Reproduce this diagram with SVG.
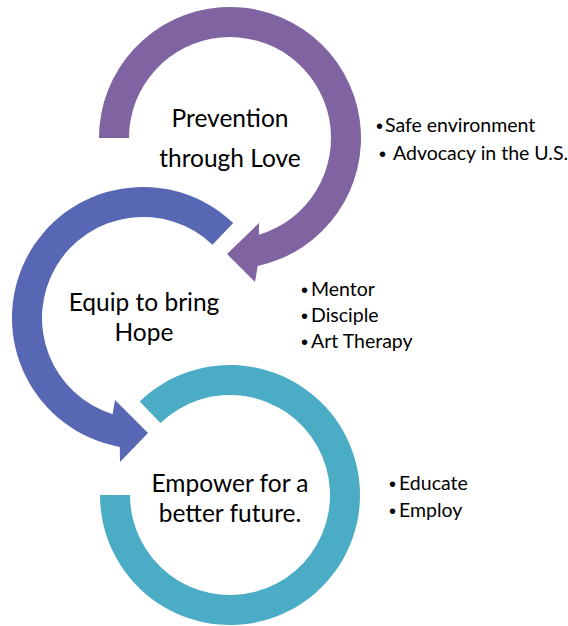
<svg xmlns="http://www.w3.org/2000/svg" width="568" height="626" viewBox="0 0 568 626">
  <style>
    .title { font-family: Lato, "Open Sans", "Liberation Sans", sans-serif; font-size: 24.5px; fill: #000; text-anchor: middle; }
    .item { font-family: Lato, "Open Sans", "Liberation Sans", sans-serif; font-size: 19.5px; fill: #000; }
    .dot { font-family: "Liberation Sans", sans-serif; font-size: 20px; fill: #000; }
    .purple { fill: #8064A2; }
    .blue { fill: #5867B3; }
    .teal { fill: #4BACC6; }
  </style>
  <rect width="568" height="626" fill="#fff"/>

  <!-- Stage 1: curved arrow turning clockwise, head pointing into stage 2 -->
  <g id="node-prevention">
    <path class="purple" d="M 99,138 A 131 131 0 1 1 257.7,266 L 255,282 L 227,254 L 259,223 L 258.9,234.8 A 101 101 0 1 0 129,138 Z"/>
    <text class="title" x="230" y="127">Prevention</text>
    <text class="title" x="230" y="167">through Love</text>
  </g>
  <g id="list-prevention">
    <text class="dot" x="376" y="133">•</text>
    <text class="item" x="385" y="132">Safe environment</text>
    <text class="dot" x="379" y="161">•</text>
    <text class="item" x="393" y="160">Advocacy in the U.S.</text>
  </g>

  <!-- Stage 2: curved arrow turning counter-clockwise, head pointing into stage 3 -->
  <g id="node-equip">
    <path class="blue" d="M 233.2,223 A 131 131 0 1 0 119.8,446.9 L 120,462 L 148,433 L 115,400 L 112.6,414.3 A 101 101 0 1 1 212.5,244.7 Z"/>
    <text class="title" x="144" y="311">Equip to bring</text>
    <text class="title" x="144" y="341">Hope</text>
  </g>
  <g id="list-equip">
    <text class="dot" x="301" y="297">•</text>
    <text class="item" x="311" y="296">Mentor</text>
    <text class="dot" x="301" y="323">•</text>
    <text class="item" x="311" y="322">Disciple</text>
    <text class="dot" x="301" y="349">•</text>
    <text class="item" x="311" y="348">Art Therapy</text>
  </g>

  <!-- Stage 3: open ring, no head -->
  <g id="node-empower">
    <path class="teal" d="M 139.7,401.5 A 130 130 0 1 1 100,495 L 130,495 A 100 100 0 1 0 160.5,423.1 Z"/>
    <text class="title" x="230" y="492">Empower for a</text>
    <text class="title" x="230" y="522">better future.</text>
  </g>
  <g id="list-empower">
    <text class="dot" x="389" y="491">•</text>
    <text class="item" x="399" y="490">Educate</text>
    <text class="dot" x="389" y="518">•</text>
    <text class="item" x="399" y="517">Employ</text>
  </g>

  <!-- the curved arrows above carry the flow between stages -->
  <g id="connectors"/>
</svg>
